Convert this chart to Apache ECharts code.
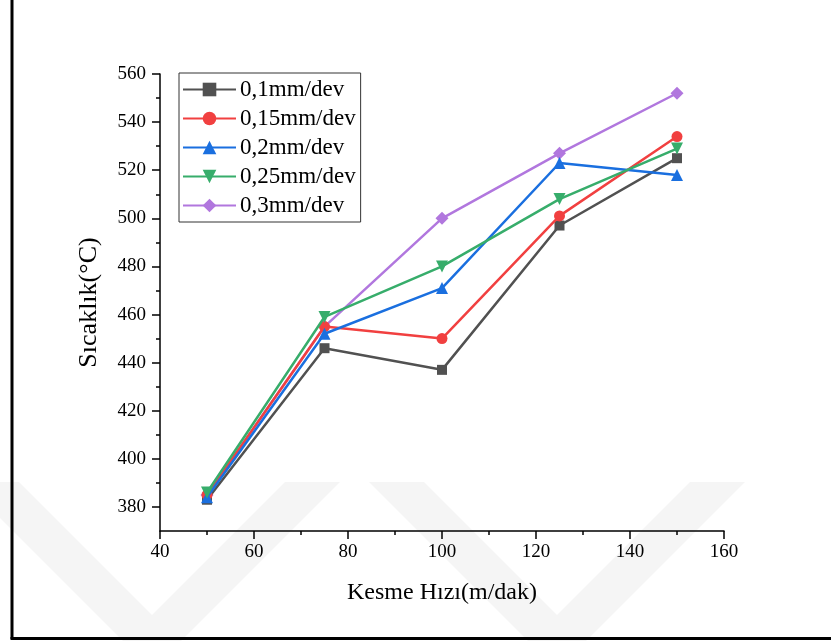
<!DOCTYPE html>
<html>
<head>
<meta charset="utf-8">
<script src="https://cdn.jsdelivr.net/npm/echarts@6/dist/echarts.min.js"></script>
<style>
html,body{margin:0;padding:0;background:#fff;}
#main{width:831px;height:641px;}
</style>
</head>
<body>
<div id="main"></div>
<script>
// kesme hızı (m/dak)
var speeds = [50, 75, 100, 125, 150];
// sıcaklık değerleri, ilerleme hızına göre
var f01 = [383, 446, 437, 497, 525];
var f015 = [385, 455, 450, 501, 534];
var f02 = [384, 452, 471, 523, 518];
var f025 = [386, 459, 480, 508, 529];
var f03 = [385, 455, 500, 527, 552];
var names = ['0,1mm/dev', '0,15mm/dev', '0,2mm/dev', '0,25mm/dev', '0,3mm/dev'];
var yTicks = [380, 400, 420, 440, 460, 480, 500, 520, 540, 560];
var yMinor = [390, 410, 430, 450, 470, 490, 510, 530, 550];

var colors = ['#515151', '#f14040', '#1a6fdf', '#37ad6b', '#b177de'];
var symbols = ['rect', 'circle', 'triangle', 'triangle', 'diamond'];
var sizes = [10, 11, 12, 12, 13];
var rotates = [0, 0, 0, 180, 0];
var zs = [4, 5, 6, 7, 3];
var values = [f01, f015, f02, f025, f03];

function pairs(arr){
    var out = [];
    for(var i = 0; i < speeds.length; i++){
        out.push([speeds[i], arr[i]]);
    }
    return out;
}

var series = [];
for(var s = 0; s < names.length; s++){
    series.push({
        name: names[s],
        type: 'line',
        data: pairs(values[s]),
        symbol: symbols[s],
        symbolSize: sizes[s],
        symbolRotate: rotates[s],
        showAllSymbol: true,
        lineStyle: {width: 2.5, color: colors[s]},
        itemStyle: {color: colors[s]},
        z: zs[s]
    });
}

var serif = 'Liberation Serif';

//watermark chevrons
function chevron(vx){
    return {
        type: 'polygon',
        z: -10,
        silent: true,
        shape: {points: [
            [vx - 188, 482], [vx, 670], [vx + 188, 482],
            [vx + 133, 482], [vx, 615], [vx - 133, 482]
        ]},
        style: {fill: '#f5f5f5'}
    };
}

var myChart = echarts.init(document.getElementById('main'));
var option = {
    backgroundColor: '#fff',
    animation: false,
    color: colors,
    grid: {left: 160, top: 74, width: 564, height: 457, containLabel: false},
    legend: {
        orient: 'vertical',
        left: 179,
        top: 73,
        padding: [5, 5, 5, 3],
        borderColor: '#333',
        borderWidth: 1,
        itemWidth: 53,
        itemHeight: 17,
        itemGap: 6,
        textStyle: {fontFamily: serif, fontSize: 23, color: '#000', padding: [0, 0, 0, -1]},
        data: names
    },
    xAxis: {
        type: 'value',
        min: 40,
        max: 160,
        interval: 20,
        name: 'Kesme Hızı(m/dak)',
        nameLocation: 'middle',
        nameGap: 50,
        nameTextStyle: {fontFamily: serif, fontSize: 24, color: '#000'},
        axisLine: {lineStyle: {color: '#000', width: 1.5}},
        axisTick: {length: 8, lineStyle: {color: '#000', width: 1.5}},
        minorTick: {show: true, splitNumber: 2, length: 4, lineStyle: {color: '#000', width: 1.5}},
        axisLabel: {fontFamily: serif, fontSize: 19, color: '#000', margin: 12},
        splitLine: {show: false}
    },
    yAxis: [{
        type: 'value',
        min: 370,
        max: 560,
        name: 'Sıcaklık(°C)',
        nameLocation: 'middle',
        nameGap: 58,
        nameTextStyle: {fontFamily: serif, fontSize: 26, color: '#000'},
        axisLine: {show: true, lineStyle: {color: '#000', width: 1.5}},
        axisTick: {show: true, length: 8, customValues: yTicks, lineStyle: {color: '#000', width: 1.5}},
        axisLabel: {fontFamily: serif, fontSize: 19, color: '#000', margin: 14, customValues: yTicks},
        splitLine: {show: false}
    }, {
        type: 'value',
        min: 370,
        max: 560,
        position: 'left',
        axisLine: {show: false},
        axisTick: {show: true, length: 4, customValues: yMinor, lineStyle: {color: '#000', width: 1.5}},
        axisLabel: {show: false},
        splitLine: {show: false}
    }],
    series: series,
    graphic: [
        chevron(152),
        chevron(557),
        {type: 'line', silent: true, shape: {x1: 12, y1: 0, x2: 12, y2: 639}, style: {stroke: '#000', lineWidth: 3}},
        {type: 'line', silent: true, shape: {x1: 10.5, y1: 638.5, x2: 831, y2: 638.5}, style: {stroke: '#000', lineWidth: 3}}
    ]
};
myChart.setOption(option);
</script>
</body>
</html>
